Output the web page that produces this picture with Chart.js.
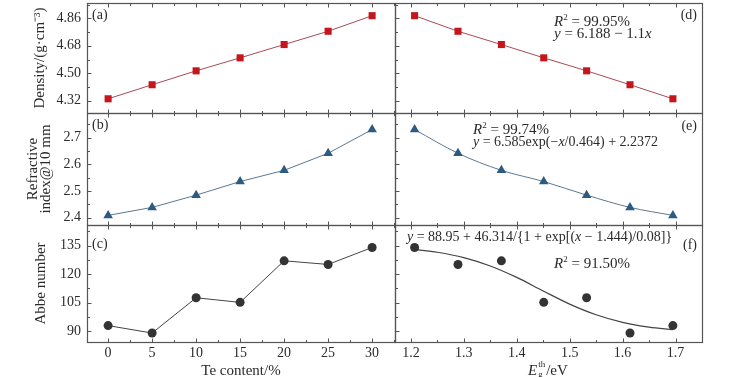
<!DOCTYPE html>
<html>
<head>
<meta charset="utf-8">
<script src="https://cdn.jsdelivr.net/npm/chart.js@4.4.1/dist/chart.umd.min.js"></script>
<style>
body { margin: 0; background: #fff; }
#wrap { position: relative; width: 737px; height: 377px; overflow: hidden; font-family: "Liberation Serif", serif; color: #2a2a2a; }
canvas { position: absolute; }
.note { position: absolute; font-size: 14px; line-height: 16px; white-space: nowrap; }
.big { font-size: 15px; }
.ss { position: relative; display: inline-block; width: 9px; height: 16px; vertical-align: top; }
.ss span { position: absolute; left: 1px; font-size: 9px; line-height: 9px; }
</style>
</head>
<body>
<div id="wrap">
  <canvas id="pa"></canvas>
  <canvas id="pb"></canvas>
  <canvas id="pc"></canvas>
  <canvas id="pd"></canvas>
  <canvas id="pe"></canvas>
  <canvas id="pf"></canvas>

  <div class="note" style="left:92px;top:7px">(a)</div>
  <div class="note" style="left:92px;top:117px">(b)</div>
  <div class="note" style="left:92px;top:236px">(c)</div>
  <div class="note" style="right:40px;top:7px">(d)</div>
  <div class="note" style="right:40px;top:118px">(e)</div>
  <div class="note" style="right:40px;top:237px">(f)</div>

  <div class="note big" style="left:554px;top:9px"><i>R</i><sup style="font-size:9px">2</sup> = 99.95%</div>
  <div class="note big" style="left:554px;top:25px"><i>y</i> = 6.188 − 1.1<i>x</i></div>
  <div class="note big" style="left:473px;top:117px"><i>R</i><sup style="font-size:9px">2</sup> = 99.74%</div>
  <div class="note" style="left:473px;top:134px"><i>y</i> = 6.585exp(−<i>x</i>/0.464) + 2.2372</div>
  <div class="note" style="left:407px;top:229px"><i>y</i> = 88.95 + 46.314/{1 + exp[(<i>x</i> − 1.444)/0.08]}</div>
  <div class="note big" style="left:554px;top:251px"><i>R</i><sup style="font-size:9px">2</sup> = 91.50%</div>

  <div class="note big" style="left:528px;top:362px"><i>E</i><span class="ss"><span style="top:-2px">th</span><span style="top:8px">g</span></span>/eV</div>
</div>

<script>
// measured samples (Te content) and the optical band gap of each
const teContent = [0, 5, 10, 15, 20, 25, 30];
const density = [4.333, 4.425, 4.516, 4.601, 4.688, 4.775, 4.877];
const refractive = [2.408, 2.438, 2.484, 2.535, 2.577, 2.641, 2.730];
const abbe = [93.0, 89.1, 107.6, 105.2, 127.0, 125.1, 134.0];

// right column: same samples sorted by band gap (30% Te first)
const bandGap = [1.207, 1.289, 1.371, 1.451, 1.532, 1.614, 1.695];
const densityByGap = [4.877, 4.775, 4.688, 4.601, 4.516, 4.425, 4.333];
const refractiveByGap = [2.730, 2.641, 2.577, 2.535, 2.484, 2.438, 2.408];
const abbeByGap = [134.0, 125.1, 127.0, 105.2, 107.6, 89.1, 93.0];

// fitted curve in (f)
const fitGap = [1.207, 1.25, 1.30, 1.35, 1.40, 1.45, 1.50, 1.55, 1.60, 1.65, 1.695];
const fitAbbe = [133.0, 131.5, 128.7, 124.3, 118.3, 111.2, 104.3, 98.7, 94.7, 92.2, 90.9];

// tick labels
const teTicks = [0, 5, 10, 15, 20, 25, 30];
const gapTicks = [1.2, 1.3, 1.4, 1.5, 1.6, 1.7];
const densityTicks = [4.32, 4.50, 4.68, 4.86];
const refractiveTicks = [2.4, 2.5, 2.6, 2.7];
const abbeTicks = [90, 105, 120, 135];

const FONT = { family: '"Liberation Serif", serif', size: 14 };
const TITLE_FONT = { family: '"Liberation Serif", serif', size: 15 };
const TEXT = '#2a2a2a';

function series(xs, ys) {
    return xs.map((x, i) => ({ x: x, y: ys[i] }));
}

// box around the plot and inward major/minor ticks
const framePlugin = {
    id: 'frame',
    afterDatasetsDraw(chart, args, opts) {
        const { ctx, chartArea: a, scales } = chart;
        const L = Math.round(a.left) + 0.5, R = Math.round(a.right) + 0.5;
        const T = Math.round(a.top) + 0.5, B = Math.round(a.bottom) + 0.5;
        ctx.save();
        ctx.strokeStyle = '#555';
        ctx.lineWidth = 1.2;
        ctx.strokeRect(L, T, R - L, B - T);
        ctx.lineWidth = 1;

        const all = (ticks, sc) => {
            const step = ticks[1] - ticks[0];
            const out = [];
            for (let k = -2; k <= ticks.length * 2 + 2; k++) {
                const v = ticks[0] + k * step / 2;
                if (v > sc.min && v < sc.max) out.push({ v: v, major: k % 2 === 0 });
            }
            return out;
        };
        ctx.beginPath();
        all(opts.x, scales.x).forEach(t => {
            const px = Math.round(scales.x.getPixelForValue(t.v)) + 0.5;
            const len = t.major ? 4 : 2.5;
            ctx.moveTo(px, B); ctx.lineTo(px, B - len);
            ctx.moveTo(px, T); ctx.lineTo(px, T + len);
        });
        all(opts.y, scales.y).forEach(t => {
            const py = Math.round(scales.y.getPixelForValue(t.v)) + 0.5;
            const len = t.major ? 4 : 2.5;
            ctx.moveTo(L, py); ctx.lineTo(L + len, py);
        });
        ctx.stroke();
        ctx.restore();
    }
};

function panel(id, box, cfg) {
    const c = document.getElementById(id);
    c.width = box.w;
    c.height = box.h;
    c.style.left = box.x + 'px';
    c.style.top = box.y + 'px';
    new Chart(c, {
        type: 'line',
        data: { datasets: cfg.datasets },
        options: {
            responsive: false,
            animation: false,
            devicePixelRatio: 1,
            layout: { padding: box.pad, autoPadding: false },
            plugins: {
                legend: { display: false },
                tooltip: { enabled: false },
                frame: { x: cfg.xTicks, y: cfg.yTicks }
            },
            scales: {
                x: {
                    type: 'linear',
                    min: cfg.xMin,
                    max: cfg.xMax,
                    display: cfg.showX,
                    grid: { display: false, drawTicks: false },
                    border: { display: false },
                    ticks: { font: FONT, color: TEXT, padding: 3, maxRotation: 0, autoSkip: false, callback: cfg.xFmt },
                    afterBuildTicks: s => { s.ticks = cfg.xTicks.map(v => ({ value: v })); },
                    afterFit: s => {
                        s.height = cfg.showX ? 38 : 0;
                        s.paddingLeft = 0; s.paddingRight = 0;
                    },
                    title: { display: !!cfg.xTitle, text: cfg.xTitle, font: TITLE_FONT, color: TEXT, padding: { top: 0, bottom: 0 } }
                },
                y: {
                    type: 'linear',
                    min: cfg.yMin,
                    max: cfg.yMax,
                    display: cfg.showY,
                    grid: { display: false, drawTicks: false },
                    border: { display: false },
                    ticks: { font: FONT, color: TEXT, padding: 6, callback: cfg.yFmt },
                    afterBuildTicks: s => { s.ticks = cfg.yTicks.map(v => ({ value: v })); },
                    afterFit: s => {
                        s.width = cfg.showY ? 87 : 0;
                        s.paddingTop = 0; s.paddingBottom = 0;
                    },
                    title: { display: !!cfg.yTitle, text: cfg.yTitle, font: { family: TITLE_FONT.family, size: 15, lineHeight: 0.85 }, color: TEXT, padding: { top: cfg.titlePad || 0, bottom: 0 } }
                }
            }
        },
        plugins: [framePlugin]
    });
}

const red = { pointStyle: 'rect', pointRadius: 5, backgroundColor: '#c4161c', borderColor: '#a84a55', pointBorderColor: '#c4161c', borderWidth: 1, pointBorderWidth: 0 };
const blue = { pointStyle: 'triangle', pointRadius: 5.5, backgroundColor: '#2c5a80', borderColor: '#5c7890', pointBorderColor: '#2c5a80', borderWidth: 1, pointBorderWidth: 0 };
const dark = { pointStyle: 'circle', pointRadius: 4.5, backgroundColor: '#333', borderColor: '#444', pointBorderColor: '#333', borderWidth: 1, pointBorderWidth: 0 };

const leftX = { xMin: -2.4, xMax: 32.6, xTicks: teTicks, xFmt: v => String(v) };
const rightX = { xMin: 1.17, xMax: 1.75, xTicks: gapTicks, xFmt: v => v.toFixed(1) };
const dY = { yMin: 4.24, yMax: 4.96, yTicks: densityTicks, yFmt: v => v.toFixed(2) };
const rY = { yMin: 2.372, yMax: 2.792, yTicks: refractiveTicks, yFmt: v => v.toFixed(1) };
const aY = { yMin: 84.4, yMax: 145.8, yTicks: abbeTicks, yFmt: v => String(v) };

// left column
panel('pa', { x: 0, y: 0, w: 398, h: 116, pad: { top: 3, bottom: 3, left: 0, right: 3 } }, Object.assign({
    showX: false, showY: true, yTitle: 'Density/(g·cm⁻³)', titlePad: 34,
    datasets: [Object.assign({ data: series(teContent, density) }, red)]
}, leftX, dY));

panel('pb', { x: 0, y: 110, w: 398, h: 118, pad: { top: 3, bottom: 3, left: 0, right: 3 } }, Object.assign({
    showX: false, showY: true, yTitle: ['Refractive', 'index@10 mm'], titlePad: 27,
    datasets: [Object.assign({ data: series(teContent, refractive) }, blue)]
}, leftX, rY));

panel('pc', { x: 0, y: 222, w: 398, h: 158, pad: { top: 3, bottom: 0, left: 0, right: 3 } }, Object.assign({
    showX: true, showY: true, xTitle: 'Te content/%', yTitle: 'Abbe number', titlePad: 35,
    datasets: [Object.assign({ data: series(teContent, abbe) }, dark)]
}, leftX, aY));

// right column
panel('pd', { x: 392, y: 0, w: 345, h: 116, pad: { top: 3, bottom: 3, left: 3, right: 35 } }, Object.assign({
    showX: false, showY: false,
    datasets: [Object.assign({ data: series(bandGap, densityByGap) }, red)]
}, rightX, dY));

panel('pe', { x: 392, y: 110, w: 345, h: 118, pad: { top: 3, bottom: 3, left: 3, right: 35 } }, Object.assign({
    showX: false, showY: false,
    datasets: [Object.assign({ data: series(bandGap, refractiveByGap), cubicInterpolationMode: 'monotone' }, blue)]
}, rightX, rY));

panel('pf', { x: 392, y: 222, w: 345, h: 158, pad: { top: 3, bottom: 0, left: 3, right: 35 } }, Object.assign({
    showX: true, showY: false,
    datasets: [
        Object.assign({ data: series(bandGap, abbeByGap), showLine: false }, dark),
        { data: series(fitGap, fitAbbe), pointRadius: 0, borderColor: '#444', borderWidth: 1.2, cubicInterpolationMode: 'monotone' }
    ]
}, rightX, aY));
</script>
</body>
</html>
